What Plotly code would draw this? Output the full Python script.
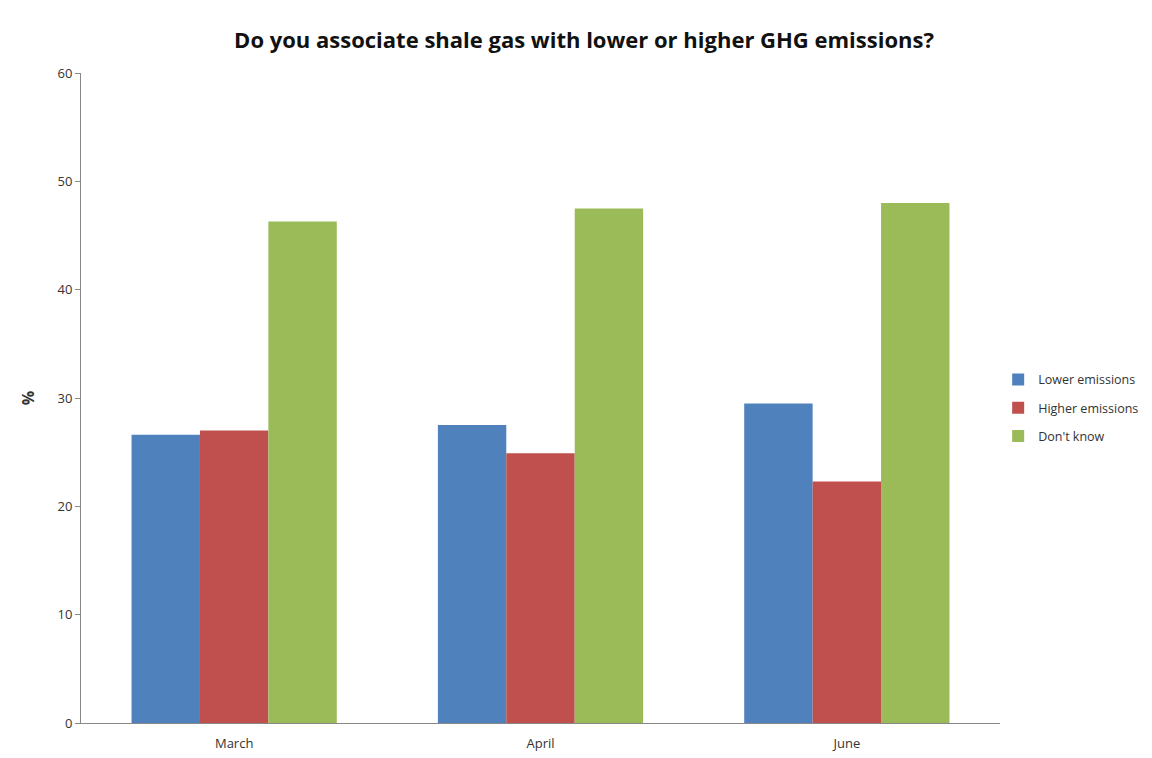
import plotly.graph_objects as go

categories = ["March", "April", "June"]
lower = [26.6, 27.5, 29.5]
higher = [27.0, 24.9, 22.3]
dont_know = [46.3, 47.5, 48.0]
yticks = [0, 10, 20, 30, 40, 50, 60]

fig = go.Figure()
fig.add_bar(x=categories, y=lower, name="Lower emissions", marker_color="#4F81BD", marker_line_width=0, legendgroup="a")
fig.add_bar(x=categories, y=higher, name="Higher emissions", marker_color="#C0504D", marker_line_width=0, legendgroup="b")
fig.add_bar(x=categories, y=dont_know, name="Don't know", marker_color="#9BBB59", marker_line_width=0, legendgroup="c")

fig.update_layout(
    width=1152, height=758,
    paper_bgcolor="white", plot_bgcolor="white",
    barmode="group", bargap=0.33, bargroupgap=0,
    font=dict(family="Open Sans, DejaVu Sans, sans-serif", size=13, color="#333"),
    title=dict(text="<b>Do you associate shale gas with lower or higher GHG emissions?</b>",
               x=0.5, xanchor="center", y=0.968, font=dict(size=22, color="#111")),
    margin=dict(l=73, r=160, t=65, b=43, autoexpand=False),
    legend=dict(x=0.998, xanchor="left", y=0.485, yanchor="middle",
                font=dict(size=12.5), itemwidth=30, tracegroupgap=9),
    xaxis=dict(showline=True, linecolor="#888", ticks="outside", ticklen=8,
               tickcolor="rgba(0,0,0,0)", tickfont=dict(size=13)),
    yaxis=dict(range=[0, 60], tickvals=yticks, showline=True, linecolor="#888",
               showgrid=False, ticks="outside", ticklen=5, tickcolor="#888",
               title=dict(text="<b>%</b>", standoff=18), tickfont=dict(size=13)),
)
fig.write_html("out.html")
